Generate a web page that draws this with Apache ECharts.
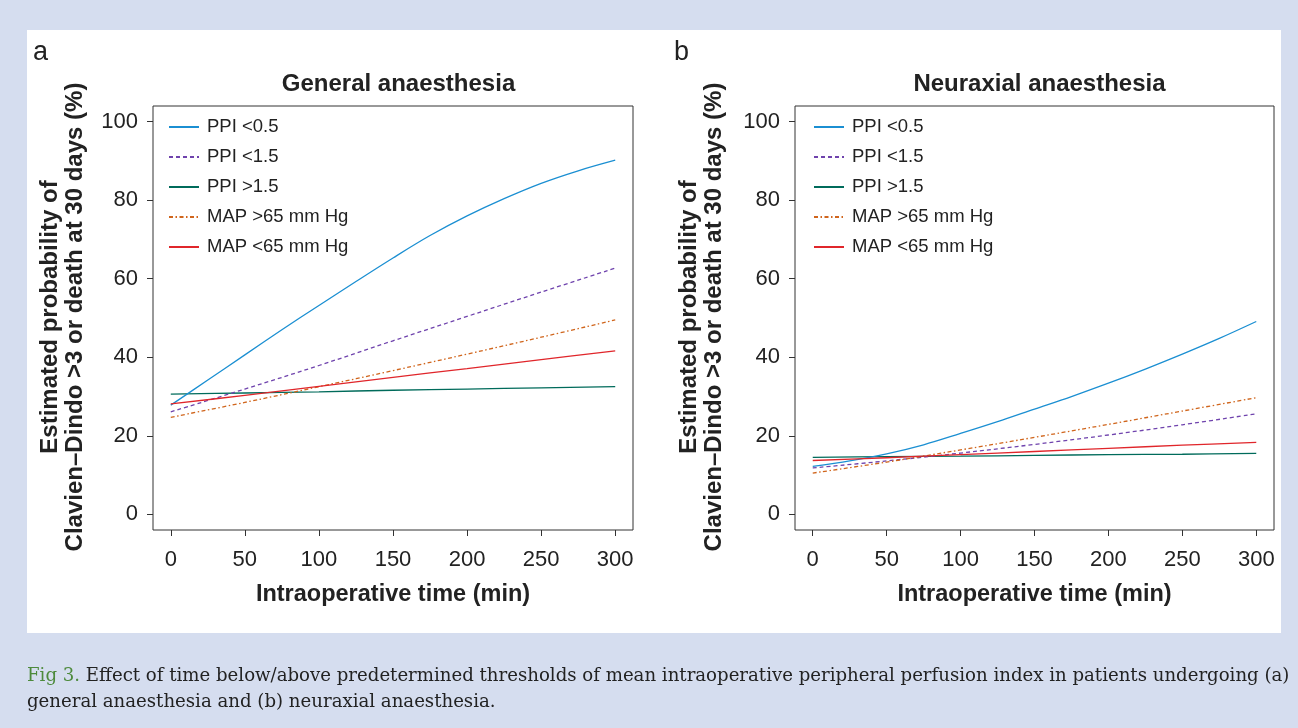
<!DOCTYPE html>
<html>
<head>
<meta charset="utf-8">
<script src="https://cdn.jsdelivr.net/npm/echarts@6/dist/echarts.min.js"></script>
<style>
  html, body { margin: 0; padding: 0; background: #d5ddef; }
  #main { width: 1298px; height: 728px; }
</style>
</head>
<body>
<div id="main"></div>
<script>
// time grids (min)
const tFine = [0, 25, 50, 75, 100, 125, 150, 175, 200, 225, 250, 275, 300];
const tCoarse = [0, 50, 100, 150, 200, 250, 300];

const seriesNames = ['PPI <0.5', 'PPI <1.5', 'PPI >1.5', 'MAP >65 mm Hg', 'MAP <65 mm Hg'];

// (a) general anaesthesia
const genPpi05 = [27.8, 34.2, 40.6, 47.0, 53.2, 59.3, 65.3, 71.0, 76.0, 80.4, 84.3, 87.5, 90.2];
const genPpi15lo = [26.1, 31.9, 37.9, 44.2, 50.4, 56.6, 62.7];
const genPpi15hi = [30.6, 30.9, 31.2, 31.6, 31.9, 32.2, 32.5];
const genMapHi = [24.7, 28.5, 32.5, 36.6, 40.8, 45.1, 49.5];
const genMapLo = [28.1, 30.3, 32.6, 34.9, 37.1, 39.4, 41.6];

// (b) neuraxial anaesthesia
const neuPpi05 = [12.2, 13.6, 15.4, 17.7, 20.6, 23.6, 26.8, 30.0, 33.4, 37.0, 40.8, 44.8, 49.1];
const neuPpi15lo = [11.8, 13.6, 15.6, 17.8, 20.2, 22.8, 25.6];
const neuPpi15hi = [14.5, 14.7, 14.8, 15.0, 15.2, 15.3, 15.5];
const neuMapHi = [10.5, 13.3, 16.4, 19.6, 22.9, 26.3, 29.7];
const neuMapLo = [13.7, 14.4, 15.2, 16.0, 16.8, 17.6, 18.3];

const xTicks = [0, 50, 100, 150, 200, 250, 300];
const yTicks = [0, 20, 40, 60, 80, 100];

const colors = ['#1b8fd2', '#6f43ad', '#006b5b', '#d0651c', '#e0262b'];
const lineTypes = ['solid', [4, 3], 'solid', [4, 2.5, 1.5, 2.5], 'solid'];

const pair = (ts, vs) => ts.map((t, i) => [t, vs[i]]);

const panels = [
  { t: [tFine, tCoarse, tCoarse, tCoarse, tCoarse],
    v: [genPpi05, genPpi15lo, genPpi15hi, genMapHi, genMapLo] },
  { t: [tFine, tCoarse, tCoarse, tCoarse, tCoarse],
    v: [neuPpi05, neuPpi15lo, neuPpi15hi, neuMapHi, neuMapLo] }
];

const font = 'Liberation Sans, Arial, sans-serif';
const ink = '#222';

const grids = [
  { left: 153, top: 106, width: 480, height: 424 },
  { left: 795, top: 106, width: 479, height: 424 }
];

const series = [];
panels.forEach((p, pi) => {
  seriesNames.forEach((name, si) => {
    series.push({
      type: 'line',
      name,
      xAxisIndex: pi,
      yAxisIndex: pi,
      data: pair(p.t[si], p.v[si]),
      smooth: 0.35,
      symbol: 'none',
      lineStyle: { color: colors[si], width: 1.3, type: lineTypes[si] },
      itemStyle: { color: colors[si] },
      z: si === 2 ? 1 : 2
    });
  });
});

const xAxis = grids.map((g, i) => ({
  type: 'value', gridIndex: i, min: -12, max: 312,
  axisLine: { show: false, onZero: false },
  splitLine: { show: false },
  axisTick: { show: true, length: 6, customValues: xTicks, lineStyle: { color: '#333' } },
  axisLabel: { customValues: xTicks, fontSize: 22, color: ink, fontFamily: font, margin: 19 },
  name: 'Intraoperative time (min)',
  nameLocation: 'middle',
  nameGap: 53,
  nameTextStyle: { fontSize: 23.5, fontWeight: 'bold', color: ink, fontFamily: font }
}));

const yAxis = grids.map((g, i) => ({
  type: 'value', gridIndex: i, min: -4, max: 104,
  axisLine: { show: false, onZero: false },
  splitLine: { show: false },
  axisTick: { show: true, length: 6, customValues: yTicks, lineStyle: { color: '#333' } },
  axisLabel: { customValues: yTicks, fontSize: 22, color: ink, fontFamily: font, margin: 15 }
}));

const legends = grids.map((g, i) => ({
  data: seriesNames,
  orient: 'vertical',
  left: i === 0 ? 168 : 813,
  top: 117.5,
  padding: 0,
  itemWidth: 30,
  itemHeight: 18,
  itemGap: 11,
  itemStyle: { opacity: 0 },
  textStyle: { fontSize: 18.5, lineHeight: 18, color: ink, fontFamily: font, padding: [0, 0, 0, 3] },
  selectedMode: false
}));

const yTitle = (x, txt) => ({
  type: 'text', x, y: 317, rotation: Math.PI / 2,
  style: { text: txt, fill: ink, font: 'bold 24px ' + font,
           align: 'center', verticalAlign: 'middle' }
});

const captionFont = '18px DejaVu Serif Condensed, serif';

const option = {
  animation: false,
  backgroundColor: '#d5ddef',
  grid: grids.map(g => Object.assign({ show: true, borderColor: '#333', borderWidth: 1 }, g, { backgroundColor: '#fff' })),
  title: [
    { text: 'General anaesthesia', left: 393.5, top: 67, textAlign: 'center',
      textStyle: { fontSize: 24, fontWeight: 'bold', color: ink, fontFamily: font } },
    { text: 'Neuraxial anaesthesia', left: 1034.5, top: 67, textAlign: 'center',
      textStyle: { fontSize: 24, fontWeight: 'bold', color: ink, fontFamily: font } }
  ],
  legend: legends,
  xAxis, yAxis, series,
  graphic: [
    { type: 'rect', z: -10, shape: { x: 27, y: 30, width: 1254, height: 603 }, style: { fill: '#fff' } },
    { type: 'text', x: 33, y: 52.5, style: { text: 'a', font: '27px ' + font, fill: ink, verticalAlign: 'middle' } },
    { type: 'text', x: 674, y: 52.5, style: { text: 'b', font: '27px ' + font, fill: ink, verticalAlign: 'middle' } },
    yTitle(50, 'Estimated probability of'),
    yTitle(75, 'Clavien\u2013Dindo >3 or death at 30 days (%)'),
    yTitle(689, 'Estimated probability of'),
    yTitle(714, 'Clavien\u2013Dindo >3 or death at 30 days (%)'),
    { type: 'text', x: 27, y: 676, scaleX: 1.12, style: {
        text: '{g|Fig 3.} Effect of time below/above predetermined thresholds of mean intraoperative peripheral perfusion index in patients undergoing (a)',
        font: captionFont, fill: ink, verticalAlign: 'middle',
        rich: { g: { fill: '#4d8a3c', font: captionFont } } } },
    { type: 'text', x: 27, y: 702, scaleX: 1.12, style: {
        text: 'general anaesthesia and (b) neuraxial anaesthesia.',
        font: captionFont, fill: ink, verticalAlign: 'middle' } }
  ]
};

const chart = echarts.init(document.getElementById('main'));
chart.setOption(option);
</script>
</body>
</html>
